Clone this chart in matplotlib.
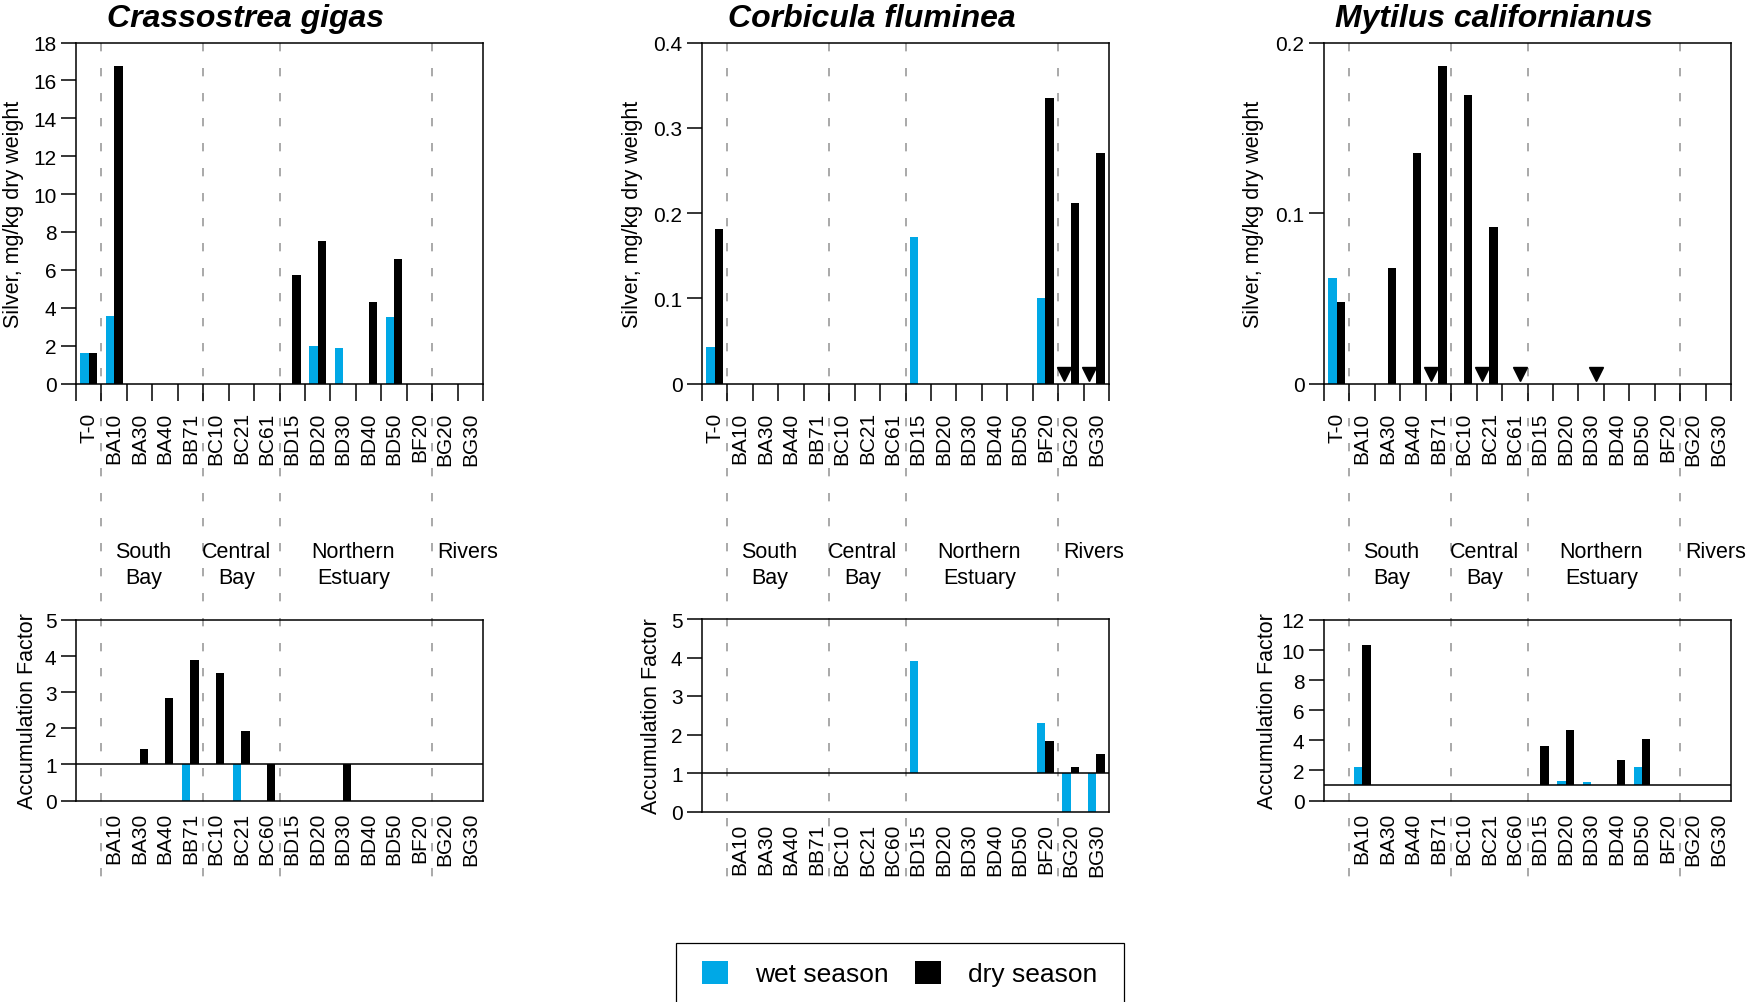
import numpy as np
import matplotlib
matplotlib.use("Agg")
import matplotlib.pyplot as plt
from matplotlib.patches import Patch, Rectangle
from matplotlib.transforms import blended_transform_factory
from matplotlib.ticker import FuncFormatter

plt.rcParams['font.family'] = ['Liberation Sans', 'DejaVu Sans']
plt.rcParams['lines.scale_dashes'] = False

nan = np.nan

# ---- stations -------------------------------------------------------------
SITES = ['T-0', 'BA10', 'BA30', 'BA40', 'BB71', 'BC10', 'BC21', 'BC61',
         'BD15', 'BD20', 'BD30', 'BD40', 'BD50', 'BF20', 'BG20', 'BG30']
AF_SITES = ['BA10', 'BA30', 'BA40', 'BB71', 'BC10', 'BC21', 'BC60',
            'BD15', 'BD20', 'BD30', 'BD40', 'BD50', 'BF20', 'BG20', 'BG30']
REGIONS = ['South\nBay', 'Central\nBay', 'Northern\nEstuary', 'Rivers']
REGION_START = ['BA10', 'BC10', 'BD15', 'BG20']
REGION_LABEL_X = [2.15, 5.8, 10.4, 14.9]

SPECIES = ['Crassostrea gigas', 'Corbicula fluminea', 'Mytilus californianus']

# ---- silver concentration, mg/kg dry weight ------------------------------
CG_WET = [1.6, 3.55, nan, nan, nan, nan, nan, nan, nan, 2.0, 1.85, nan, 3.5, nan, nan, nan]
CG_DRY = [1.6, 16.75, nan, nan, nan, nan, nan, nan, 5.75, 7.5, nan, 4.3, 6.55, nan, nan, nan]

CF_WET = [0.043, nan, nan, nan, nan, nan, nan, nan, 0.172, nan, nan, nan, nan, 0.1, nan, nan]
CF_DRY = [0.181, nan, nan, nan, nan, nan, nan, nan, nan, nan, nan, nan, nan, 0.335, 0.212, 0.27]

MC_WET = [0.062, nan, nan, nan, nan, nan, nan, nan, nan, nan, nan, nan, nan, nan, nan, nan]
MC_DRY = [0.048, nan, 0.068, 0.135, 0.186, 0.169, 0.0915, nan, nan, nan, nan, nan, nan, nan, nan, nan]

# stations below detection (wet / dry season)
CG_ND_WET, CG_ND_DRY = [], []
CF_ND_WET, CF_ND_DRY = ['BG20', 'BG30'], []
MC_ND_WET, MC_ND_DRY = ['BB71', 'BC21'], ['BC61', 'BD30']

# ---- accumulation factor ---------------------------------------------------
CG_AF_WET = [nan, nan, nan, 0.0, nan, 0.0, nan, nan, nan, nan, nan, nan, nan, nan, nan]
CG_AF_DRY = [nan, 1.43, 2.83, 3.88, 3.52, 1.92, 0.0, nan, nan, 0.0, nan, nan, nan, nan, nan]

CF_AF_WET = [nan, nan, nan, nan, nan, nan, nan, 3.92, nan, nan, nan, nan, 2.3, 0.0, 0.0]
CF_AF_DRY = [nan, nan, nan, nan, nan, nan, nan, nan, nan, nan, nan, nan, 1.83, 1.16, 1.5]

MC_AF_WET = [2.21, nan, nan, nan, nan, nan, nan, nan, 1.28, 1.22, nan, 2.21, nan, nan, nan]
MC_AF_DRY = [10.32, nan, nan, nan, nan, nan, nan, 3.61, 4.67, nan, 2.68, 4.07, nan, nan, nan]

TOP_YMAX = [18, 0.4, 0.2]
TOP_YTICKS = [np.arange(0, 19, 2), [0, 0.1, 0.2, 0.3, 0.4], [0, 0.1, 0.2]]
AF_YMAX = [5, 5, 12]
AF_YTICKS = [np.arange(0, 6, 1), np.arange(0, 6, 1), np.arange(0, 13, 2)]

TOP_WET = [CG_WET, CF_WET, MC_WET]
TOP_DRY = [CG_DRY, CF_DRY, MC_DRY]
ND_WET = [CG_ND_WET, CF_ND_WET, MC_ND_WET]
ND_DRY = [CG_ND_DRY, CF_ND_DRY, MC_ND_DRY]
AF_WET = [CG_AF_WET, CF_AF_WET, MC_AF_WET]
AF_DRY = [CG_AF_DRY, CF_AF_DRY, MC_AF_DRY]

# ---- style -------------------------------------------------------------------
WET_C = '#00A8E6'
DRY_C = '#000000'
DASH_C = '#a3a3a3'
BW = 0.33
LW = 1.1
TICK_FS = 15
LABEL_FS = 15.5
REGION_FS = 15.5
REGION_LINESPACING = 1.3
REGION_LINE_PX = 26.0

W, H = 1747, 1003
fig = plt.figure(figsize=(W / 100, H / 100), dpi=100)


def px_axes(left, right, top, bottom):
    return fig.add_axes([left / W, 1 - bottom / H, (right - left) / W, (bottom - top) / H])


COL_X = [(76, 483), (702, 1109), (1324, 1731)]
TOP_Y = (43.5, 384.5)
AF_Y = [(621, 801.5), (620, 812.5), (621, 801.5)]
TOP_YLABEL_X = [-0.1275, -0.145, -0.148]
AF_YLABEL_X = [-0.0936, -0.099, -0.114]

fmt = FuncFormatter(lambda v, p: '0' if v == 0 else f'{v:g}')

x = np.arange(len(SITES))
x_af = np.array([SITES.index(s) if s in SITES else i + 1 for i, s in enumerate(AF_SITES)])
bounds = [SITES.index(s) - 0.5 for s in REGION_START]


def style_axes(ax):
    ax.set_facecolor('none')
    for sp in ax.spines.values():
        sp.set_linewidth(LW)
    ax.set_xlim(-0.5, len(SITES) - 0.5)
    ax.tick_params(axis='y', length=11, width=LW, pad=3, labelsize=TICK_FS)


for k in range(3):
    l, r = COL_X[k]
    # -------- concentration panel
    ax = px_axes(l, r, *TOP_Y)
    style_axes(ax)
    wet = np.array(TOP_WET[k], float)
    dry = np.array(TOP_DRY[k], float)
    mw, md = ~np.isnan(wet), ~np.isnan(dry)
    ax.bar(x[mw] - BW / 2, wet[mw], BW, color=WET_C, linewidth=0, zorder=2)
    ax.bar(x[md] + BW / 2, dry[md], BW, color=DRY_C, linewidth=0, zorder=2)

    tr = blended_transform_factory(ax.transData, ax.transAxes)
    nd_w = [SITES.index(s) - 0.28 for s in ND_WET[k]]
    nd_d = [SITES.index(s) + 0.2 for s in ND_DRY[k]]
    nd = nd_w + nd_d
    if nd:
        ax.plot(nd, [0.027] * len(nd), transform=tr, ls='none', marker='v',
                ms=9.5, color='k', zorder=3, clip_on=False)

    ax.set_ylim(0, TOP_YMAX[k])
    ax.set_yticks(TOP_YTICKS[k])
    ax.yaxis.set_major_formatter(fmt)
    ax.set_xticks(x)
    ax.set_xticklabels(SITES, rotation=90, fontsize=TICK_FS)
    ax.tick_params(axis='x', which='major', length=0, pad=20)
    ax.set_xticks(np.arange(-0.5, len(SITES), 1), minor=True)
    ax.tick_params(axis='x', which='minor', length=12, width=LW, direction='out')
    ax.set_ylabel('Silver, mg/kg dry weight', fontsize=LABEL_FS)
    ax.yaxis.set_label_coords(TOP_YLABEL_X[k], 0.5)

    # region dividers running through both panels
    trf = blended_transform_factory(ax.transData, fig.transFigure)
    for b in bounds:
        ax.plot([b, b], [1 - 44 / H, 1 - 887 / H], transform=trf, color=DASH_C,
                lw=1.3, dashes=(6, 12), clip_on=False, zorder=0.5)
    for name, xp in zip(REGIONS, REGION_LABEL_X):
        nlines = name.count('\n')
        y_base = 558.0 + nlines * REGION_LINE_PX
        fig.text(xp, 1 - y_base / H, name, transform=trf, ha='center',
                 va='baseline', fontsize=REGION_FS, linespacing=REGION_LINESPACING)

    fig.text((l + r) / 2 / W - 34 / W, 1 - 27 / H, SPECIES[k], fontsize=23,
             fontweight='bold', fontstyle='italic', ha='center', va='baseline')

    # -------- accumulation factor panel
    ax2 = px_axes(l, r, *AF_Y[k])
    style_axes(ax2)
    aw = np.array(AF_WET[k], float)
    ad = np.array(AF_DRY[k], float)
    mw, md = ~np.isnan(aw), ~np.isnan(ad)
    ax2.bar(x_af[mw] - BW / 2, aw[mw] - 1, BW, bottom=1, color=WET_C, linewidth=0, zorder=2)
    ax2.bar(x_af[md] + BW / 2, ad[md] - 1, BW, bottom=1, color=DRY_C, linewidth=0, zorder=2)
    ax2.axhline(1, color='k', lw=LW, zorder=3)
    ax2.set_ylim(0, AF_YMAX[k])
    ax2.set_yticks(AF_YTICKS[k])
    ax2.set_xticks(x_af)
    ax2.set_xticklabels(AF_SITES, rotation=90, fontsize=TICK_FS)
    ax2.tick_params(axis='x', length=0, pad=8)
    ax2.set_ylabel('Accumulation Factor', fontsize=LABEL_FS)
    ax2.yaxis.set_label_coords(AF_YLABEL_X[k], 0.5)

# ---- legend ------------------------------------------------------------------
handles = [Patch(facecolor=WET_C, edgecolor='none', label='wet season'),
           Patch(facecolor=DRY_C, edgecolor='none', label='dry season')]
fig.legend(handles=handles, loc='center left', bbox_to_anchor=(702 / W, 1 - 974.5 / H),
           ncol=2, frameon=False, fontsize=19, borderpad=0, borderaxespad=0,
           handlelength=1.0, handleheight=1.0, handletextpad=1.0, columnspacing=1.0)
fig.patches.append(Rectangle((676 / W, 1 - 1012 / H), 448 / W, 68 / H,
                             transform=fig.transFigure, fill=False,
                             edgecolor='k', lw=0.9))

fig.savefig('out.png', dpi=100)
